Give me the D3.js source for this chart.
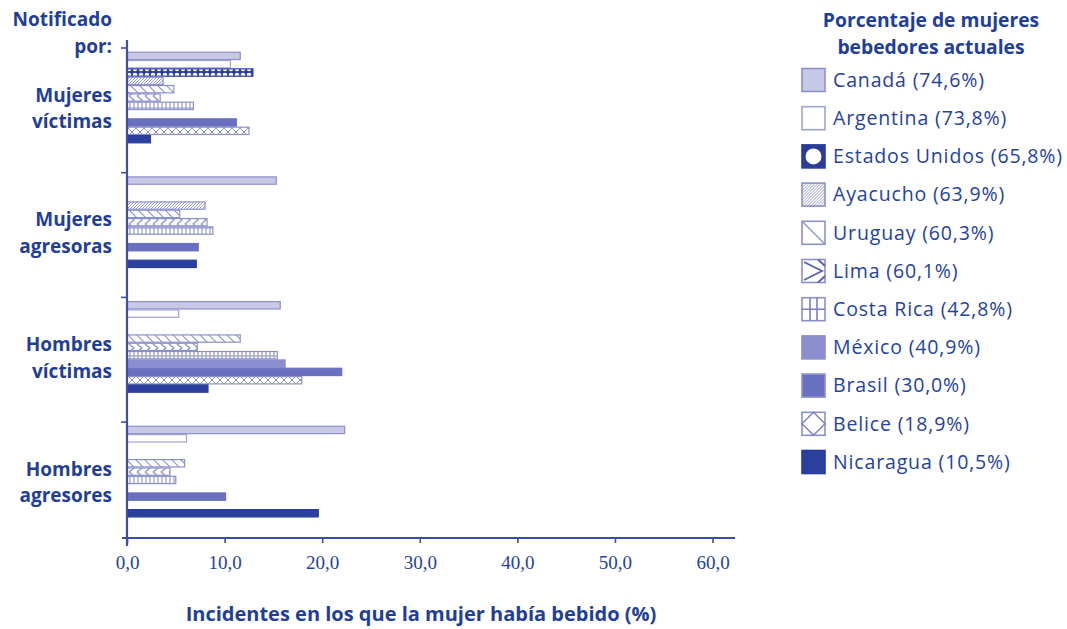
<!DOCTYPE html>
<html><head><meta charset="utf-8">
<script src="https://cdn.jsdelivr.net/npm/d3@7"></script>
<style>
body{margin:0;background:#fff;}
svg{display:block;}
</style></head>
<body>
<svg id="chart" width="1067" height="629"></svg>
<script>
const groups = ["Mujeres víctimas","Mujeres agresoras","Hombres víctimas","Hombres agresores"];
const countries = ["Canadá","Argentina","Estados Unidos","Ayacucho","Uruguay","Lima","Costa Rica","México","Brasil","Belice","Nicaragua"];
const drinkPct = ["74,6","73,8","65,8","63,9","60,3","60,1","42,8","40,9","30,0","18,9","10,5"];
// values per country, one per group (null = no bar)
const canada     = [11.6, 15.3, 15.7, 22.3];
const argentina  = [10.6, null, 5.3, 6.1];
const usa        = [12.9, null, null, null];
const ayacucho   = [3.7, 8.0, null, null];
const uruguay    = [4.8, 5.4, 11.6, 5.9];
const lima       = [3.4, 8.2, 7.2, 4.4];
const costaRica  = [6.8, 8.8, 15.4, 5.0];
const mexico     = [null, null, 16.2, null];
const brasil     = [11.2, 7.3, 22.0, 10.1];
const belice     = [12.5, null, 17.9, null];
const nicaragua  = [2.4, 7.1, 8.3, 19.6];
const xTicks = [0,10,20,30,40,50,60];

const series = [canada,argentina,usa,ayacucho,uruguay,lima,costaRica,mexico,brasil,belice,nicaragua];

const svg = d3.select("#chart");
const defs = svg.append("defs");
const lc = "#8c90c8";     // light pattern stroke
const dark = "#2b3c98";
const txt = "#2442a0";
const FONT = "Open Sans, sans-serif";

// patterns
function pat(id,w,h,bg){const p=defs.append("pattern").attr("id",id).attr("patternUnits","userSpaceOnUse").attr("width",w).attr("height",h);
  p.append("rect").attr("width",w).attr("height",h).attr("fill",bg);return p;}
let p;
p=pat("pUSA",6,6,dark); p.append("circle").attr("cx",3).attr("cy",3).attr("r",2.3).attr("fill","#fff");
p=pat("pAya",3,3,"#fff"); p.append("path").attr("d","M-1,1 L1,-1 M0,3 L3,0 M2,4 L4,2").attr("stroke",lc).attr("stroke-width",0.9);
p=pat("pUru",9,9,"#fff"); p.append("path").attr("d","M0,0 L9,9 M-1,8 L1,10 M8,-1 L10,1").attr("stroke",lc).attr("stroke-width",1.1);
p=pat("pLima",8,8,"#fff"); p.append("path").attr("d","M1,0 L6,4 L1,8").attr("stroke",lc).attr("stroke-width",1.2).attr("fill","none");
p=pat("pCR",4,8,"#fff"); p.append("path").attr("d","M2,0 L2,8 M0,4 L4,4").attr("stroke",lc).attr("stroke-width",1.1);
p=pat("pBel",8,8,"#fff"); p.append("path").attr("d","M0,0 L8,8 M8,0 L0,8").attr("stroke",lc).attr("stroke-width",1);

const styles = [
  {fill:"#c7c9e7", stroke:"#8c90c8"},
  {fill:"#ffffff", stroke:"#a0a3d0"},
  {fill:"url(#pUSA)", stroke:dark},
  {fill:"url(#pAya)", stroke:lc},
  {fill:"url(#pUru)", stroke:lc},
  {fill:"url(#pLima)", stroke:lc},
  {fill:"url(#pCR)", stroke:lc},
  {fill:"#8b8fd0", stroke:"#8b8fd0"},
  {fill:"#6a70c0", stroke:"#6a70c0"},
  {fill:"url(#pBel)", stroke:lc},
  {fill:"#2b3f9c", stroke:"#2b3f9c"}
];

// scales
const x = d3.scaleLinear().domain([0,62.3]).range([127,735]);
const y = d3.scaleBand().domain(groups).range([48,546.8]).paddingInner(0).paddingOuter(0);
const inner = d3.scaleBand().domain(countries).range([3.7,3.7+8.33*11]);

// bars
const data=[];
groups.forEach((g,gi)=>countries.forEach((c,ci)=>{const v=series[ci][gi]; if(v!=null) data.push({g,c,ci,v});}));
svg.append("g").selectAll("rect").data(data).join("rect")
  .attr("x",x(0)).attr("y",d=>y(d.g)+inner(d.c)+0.5)
  .attr("width",d=>x(d.v)-x(0)).attr("height",inner.bandwidth()-1)
  .attr("fill",d=>styles[d.ci].fill).attr("stroke",d=>styles[d.ci].stroke).attr("stroke-width",1.2);

// axes
const axisCol="#3d4ea6";
const xg = svg.append("g").attr("transform","translate(0,538)")
  .call(d3.axisBottom(x).tickValues(xTicks).tickSize(5).tickFormat(d=>d3.format(".1f")(d).replace(".",",")));
xg.select(".domain").remove();
xg.append("line").attr("x1",122).attr("x2",735).attr("stroke",axisCol).attr("stroke-width",2.2);
xg.selectAll(".tick line").attr("stroke",axisCol).attr("stroke-width",1.6);
xg.selectAll(".tick text").attr("fill",txt).attr("font-family","Liberation Serif, serif").attr("font-size",19).attr("dy","1.2em");

svg.append("line").attr("x1",127).attr("x2",127).attr("y1",40).attr("y2",546).attr("stroke",axisCol).attr("stroke-width",2.2);
svg.append("g").selectAll("line").data(groups).join("line")
  .attr("x1",121).attr("x2",127).attr("y1",d=>y(d)).attr("y2",d=>y(d)).attr("stroke",axisCol).attr("stroke-width",1.6);

// two-line labels, centred on cy, line gap large enough to keep boxes apart
function twoLine(sel, xPos, cy, lines, gap){
  lines.forEach((s,i)=>sel.append("text").attr("x",xPos).attr("y",cy + (i-0.5)*gap).attr("dy","0.35em").text(s));
}
const lab = svg.append("g").attr("font-family",FONT).attr("font-weight","bold").attr("font-size",19).attr("fill","#1f3e9a").attr("text-anchor","end");
groups.forEach(g=>{
  const cy=y(g)+y.bandwidth()/2-2;
  twoLine(lab,112,cy,g.split(" "),26.5);
});
twoLine(lab,112,33,["Notificado","por:"],26.5);

// x title
svg.append("text").attr("x",421).attr("y",614).attr("dy","0.35em").attr("text-anchor","middle")
  .attr("font-family",FONT).attr("font-weight","bold").attr("font-size",20).attr("fill","#1f3e9a")
  .text("Incidentes en los que la mujer había bebido (%)");

// legend
const lg = svg.append("g").attr("font-family",FONT).attr("font-weight","bold").attr("font-size",19.3).attr("fill","#1f3e9a").attr("text-anchor","middle");
twoLine(lg,931,33.5,["Porcentaje de mujeres","bebedores actuales"],27);
const ly = d3.scalePoint().domain(countries).range([80,462]);
const items = svg.append("g").selectAll("g.item").data(countries).join("g").attr("class","item").attr("transform",d=>`translate(0,${ly(d)})`);
items.append("rect").attr("x",802).attr("y",-11.5).attr("width",23).attr("height",23)
  .attr("fill",(d,i)=>styles[i].fill).attr("stroke",(d,i)=>i===1?"#a0a3d0":(i===2||i===10?dark:"#8c90c8")).attr("stroke-width",1.6);
// legend swatch overlays for patterned items
const sw = (i)=>d3.select(items.nodes()[i]);
sw(2).select("rect").attr("fill",dark); sw(2).append("circle").attr("cx",813.5).attr("cy",0).attr("r",8).attr("fill","#fff");
sw(4).select("rect").attr("fill","#fff"); sw(4).append("path").attr("d","M803,-10.5 L824,10.5").attr("stroke",lc).attr("stroke-width",1.3);
sw(5).select("rect").attr("fill","#fff"); sw(5).append("path").attr("d","M804,-9 L822,0 L804,9 M818,-11.5 L825,-5 M818,11.5 L825,5").attr("stroke","#5a60b0").attr("stroke-width",1.8).attr("fill","none");
sw(6).select("rect").attr("fill","#fff"); sw(6).append("path").attr("d","M810,-11.5 L810,11.5 M817,-11.5 L817,11.5 M802,0 L825,0").attr("stroke","#7a7fc0").attr("stroke-width",1.6);
sw(9).select("rect").attr("fill","#fff"); sw(9).append("path").attr("d","M813.5,-11.5 L825,0 L813.5,11.5 L802,0 Z").attr("stroke","#7a7fc0").attr("stroke-width",1.4).attr("fill","none");
sw(3).select("rect").attr("fill","url(#pAya)");
items.append("text").attr("x",833).attr("y",0).attr("dy","0.35em").attr("font-family",FONT).attr("font-size",19.5).attr("letter-spacing",0.85).attr("fill",txt)
  .text((d,i)=>`${d} (${drinkPct[i]}%)`);
</script>
</body></html>
